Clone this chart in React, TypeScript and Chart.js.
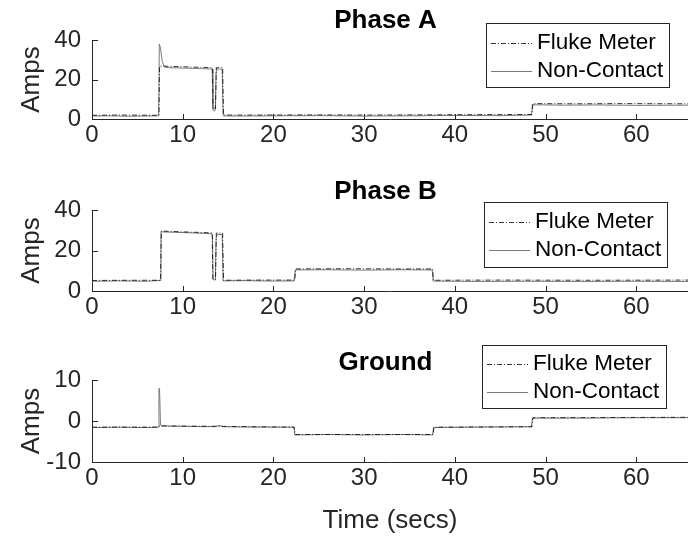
import React, { useEffect, useRef } from "react";
import { Chart, registerables } from "chart.js";

Chart.register(...registerables);

// ---------- data ----------
const xTickValues = [0, 10, 20, 30, 40, 50, 60];
const xMax = 65.7;

const phaseATime = [0, 2, 4, 6, 7.35, 7.42, 7.55, 7.75, 8.0, 8.4, 10, 12, 13.1, 13.25, 13.32, 13.45, 13.6, 13.68, 13.75, 14.35, 14.45, 16, 20, 25, 30, 35, 40, 45, 48.45, 48.55, 52, 56, 60, 65.7];
const phaseANonContact = [1.5, 1.6, 1.4, 1.5, 1.6, 38, 36, 29, 26.3, 26.0, 25.8, 25.5, 25.3, 25.2, 5.0, 4.0, 4.5, 24, 25.4, 25.2, 1.6, 1.5, 1.6, 1.7, 1.5, 1.6, 1.8, 1.7, 2.0, 7.2, 7.0, 7.1, 6.9, 7.0];
const phaseAFlukeTime = [0, 3, 6, 7.38, 7.45, 9, 11, 13.28, 13.35, 13.62, 13.7, 14.4, 14.5, 18, 24, 30, 36, 42, 48.5, 48.6, 53, 58, 65.7];
const phaseAFluke = [1.9, 2.0, 1.9, 1.9, 26.8, 26.6, 26.3, 26.0, 5.5, 5.5, 26.0, 26.0, 2.0, 2.0, 2.1, 2.0, 2.1, 2.2, 2.3, 7.8, 7.7, 7.8, 7.7];

const phaseBTime = [0, 3, 6, 7.5, 7.6, 9, 11, 13.2, 13.28, 13.35, 13.45, 13.6, 13.68, 13.8, 14.35, 14.45, 17, 20, 22.3, 22.4, 26, 30, 34, 37.5, 37.6, 42, 48, 54, 60, 65.7];
const phaseBNonContact = [4.8, 5.0, 4.8, 5.2, 29.2, 29.0, 28.7, 28.3, 27.0, 6.0, 5.3, 5.6, 26, 28.0, 27.8, 5.0, 5.1, 4.9, 5.0, 10.4, 10.5, 10.3, 10.5, 10.4, 4.9, 4.7, 4.8, 4.7, 4.8, 4.7];
const phaseBFlukeTime = [0, 4, 7.55, 7.65, 10, 13.25, 13.32, 13.62, 13.7, 14.4, 14.5, 18, 22.35, 22.45, 28, 33, 37.55, 37.65, 45, 55, 65.7];
const phaseBFluke = [5.2, 5.3, 5.3, 29.6, 29.2, 28.7, 5.8, 5.8, 28.6, 28.6, 5.3, 5.4, 5.4, 10.9, 11.0, 10.9, 10.9, 5.3, 5.4, 5.3, 5.4];

const groundTime = [0, 3, 6, 7.3, 7.38, 7.45, 7.55, 7.65, 10, 13.5, 14, 14.5, 18, 22.25, 22.35, 26, 30, 34, 37.55, 37.65, 42, 48.45, 48.55, 54, 60, 65.7];
const groundNonContact = [-1.6, -1.5, -1.6, -1.5, 8.0, 7.6, -1.0, -1.2, -1.3, -1.4, -1.1, -1.4, -1.5, -1.5, -3.4, -3.3, -3.4, -3.3, -3.4, -1.6, -1.5, -1.4, 0.7, 0.7, 0.8, 0.8];
const groundFlukeTime = [0, 7.3, 7.5, 14, 22.3, 22.4, 37.6, 37.7, 48.5, 48.6, 65.7];
const groundFluke = [-1.5, -1.5, -1.2, -1.3, -1.5, -3.3, -3.3, -1.5, -1.4, 0.8, 0.9];

const phaseAYTicks = [0, 20, 40];
const phaseBYTicks = [0, 20, 40];
const groundYTicks = [-10, 0, 10];

const seriesNames = ["Fluke Meter", "Non-Contact"];

// ---------- style ----------
const FONT = "'Liberation Sans', Arial, Helvetica, sans-serif";
const AXIS_COLOR = "#262626";
const NC_COLOR = "#7a7a7a";
const FLUKE_COLOR = "#000000";
const FLUKE_DASH = [5, 2, 1, 2];

type Panel = {
  title: string;
  height: number;
  offsetTop: number;
  top: number;
  bottom: number;
  yMin: number;
  yMax: number;
  yTicks: number[];
  titleY: number;
  legend: { x: number; y: number; w: number; h: number; row1: number; row2: number };
  xTitle: boolean;
  nc: { t: number[]; v: number[] };
  fluke: { t: number[]; v: number[] };
};

const zip = (t: number[], v: number[]) => t.map((x, i) => ({ x, y: v[i] }));

const panels: Panel[] = [
  {
    title: "Phase A", height: 170, offsetTop: 0, top: 40, bottom: 119,
    yMin: 0, yMax: 40, yTicks: phaseAYTicks, titleY: 21,
    legend: { x: 486, y: 23, w: 183, h: 64, row1: 42.5, row2: 71 },
    xTitle: false,
    nc: { t: phaseATime, v: phaseANonContact },
    fluke: { t: phaseAFlukeTime, v: phaseAFluke },
  },
  {
    title: "Phase B", height: 170, offsetTop: 170, top: 40, bottom: 121,
    yMin: 0, yMax: 40, yTicks: phaseBYTicks, titleY: 21.5,
    legend: { x: 484, y: 32, w: 183, h: 65, row1: 51.5, row2: 80 },
    xTitle: false,
    nc: { t: phaseBTime, v: phaseBNonContact },
    fluke: { t: phaseBFlukeTime, v: phaseBFluke },
  },
  {
    title: "Ground", height: 197, offsetTop: 340, top: 40, bottom: 122,
    yMin: -10, yMax: 10, yTicks: groundYTicks, titleY: 22.5,
    legend: { x: 482, y: 5, w: 184, h: 63, row1: 23.5, row2: 52 },
    xTitle: true,
    nc: { t: groundTime, v: groundNonContact },
    fluke: { t: groundFlukeTime, v: groundFluke },
  },
];

const decorPlugin = {
  id: "decor",
  afterDraw(chart: any, _args: any, opts: any) {
    const ctx = chart.ctx as CanvasRenderingContext2D;
    const { left, bottom } = chart.chartArea;
    const xs = chart.scales.x;
    const ys = chart.scales.y;
    ctx.save();
    // inward ticks
    ctx.strokeStyle = AXIS_COLOR;
    ctx.lineWidth = 1;
    ctx.beginPath();
    for (const v of xTickValues) {
      const px = Math.round(xs.getPixelForValue(v)) + 0.5;
      ctx.moveTo(px, bottom);
      ctx.lineTo(px, bottom - 5);
    }
    for (const v of opts.yTicks) {
      const py = Math.round(ys.getPixelForValue(v)) + 0.5;
      ctx.moveTo(left, py);
      ctx.lineTo(left + 6, py);
    }
    ctx.stroke();
    // title
    ctx.fillStyle = "#000";
    ctx.font = `bold 26px ${FONT}`;
    ctx.textAlign = "center";
    ctx.textBaseline = "middle";
    ctx.fillText(opts.title, 385.5, opts.titleY);
    // legend
    const L = opts.legend;
    ctx.fillStyle = "#fff";
    ctx.fillRect(L.x, L.y, L.w, L.h);
    ctx.strokeStyle = AXIS_COLOR;
    ctx.lineWidth = 1;
    ctx.strokeRect(L.x + 0.5, L.y + 0.5, L.w, L.h);
    const rows = [
      { y: L.row1, color: FLUKE_COLOR, dash: FLUKE_DASH, w: 0.8, label: seriesNames[0] },
      { y: L.row2, color: NC_COLOR, dash: [], w: 1, label: seriesNames[1] },
    ];
    for (const r of rows) {
      ctx.beginPath();
      ctx.setLineDash(r.dash);
      ctx.strokeStyle = r.color;
      ctx.lineWidth = r.w;
      ctx.moveTo(L.x + 5, Math.round(r.y) + 0.5);
      ctx.lineTo(L.x + 46, Math.round(r.y) + 0.5);
      ctx.stroke();
      ctx.setLineDash([]);
      ctx.fillStyle = "#000";
      ctx.font = `22.5px ${FONT}`;
      ctx.textAlign = "left";
      ctx.textBaseline = "middle";
      ctx.fillText(r.label, L.x + 51, r.y);
    }
    ctx.restore();
  },
};

function PanelChart({ p }: { p: Panel }) {
  const ref = useRef<HTMLCanvasElement | null>(null);
  useEffect(() => {
    if (!ref.current) return;
    const chart = new Chart(ref.current, {
      type: "line",
      data: {
        datasets: [
          {
            label: seriesNames[0],
            data: zip(p.fluke.t, p.fluke.v),
            borderColor: FLUKE_COLOR,
            borderWidth: 0.8,
            borderDash: FLUKE_DASH,
            pointRadius: 0,
            tension: 0,
            order: 0,
          },
          {
            label: seriesNames[1],
            data: zip(p.nc.t, p.nc.v),
            borderColor: NC_COLOR,
            borderWidth: 1,
            pointRadius: 0,
            tension: 0,
            order: 1,
          },
        ],
      },
      options: {
        responsive: false,
        animation: false,
        events: [],
        layout: { padding: { top: p.top, left: 0, right: 0, bottom: 0 } },
        plugins: {
          legend: { display: false },
          title: { display: false },
          tooltip: { enabled: false },
          decor: { title: p.title, titleY: p.titleY, legend: p.legend, yTicks: p.yTicks },
        } as any,
        scales: {
          x: {
            type: "linear",
            min: 0,
            max: xMax,
            afterBuildTicks: (scale: any) => {
              scale.ticks = xTickValues.map((v) => ({ value: v }));
            },
            afterFit: (scale: any) => {
              scale.height = p.height - p.bottom;
            },
            grid: { display: true, drawOnChartArea: false, drawTicks: false },
            border: { display: true, color: AXIS_COLOR, width: 1 },
            ticks: {
              autoSkip: false,
              maxRotation: 0,
              padding: 2,
              color: AXIS_COLOR,
              font: { family: FONT, size: 24 },
            },
            title: {
              display: p.xTitle,
              text: "Time (secs)",
              color: AXIS_COLOR,
              font: { family: FONT, size: 26 },
              padding: { top: 0, bottom: 1 },
            },
          },
          y: {
            type: "linear",
            min: p.yMin,
            max: p.yMax,
            afterBuildTicks: (scale: any) => {
              scale.ticks = p.yTicks.map((v) => ({ value: v }));
            },
            afterFit: (scale: any) => {
              scale.width = 92;
            },
            grid: { display: true, drawOnChartArea: false, drawTicks: false },
            border: { display: true, color: AXIS_COLOR, width: 1 },
            ticks: {
              padding: 11,
              color: AXIS_COLOR,
              font: { family: FONT, size: 24 },
            },
            title: {
              display: true,
              text: "Amps",
              color: AXIS_COLOR,
              font: { family: FONT, size: 26 },
              padding: { top: 16, bottom: 0 },
            },
          },
        },
      },
      plugins: [decorPlugin],
    } as any);
    return () => chart.destroy();
  }, [p]);
  return (
    <canvas
      ref={ref}
      width={688}
      height={p.height}
      style={{ position: "absolute", left: 0, top: p.offsetTop, width: 688, height: p.height }}
    />
  );
}

export default function App() {
  return (
    <div style={{ position: "fixed", left: 0, top: 0, width: 688, height: 537, background: "#fff", overflow: "hidden" }}>
      {panels.map((p) => (
        <PanelChart key={p.title} p={p} />
      ))}
    </div>
  );
}
